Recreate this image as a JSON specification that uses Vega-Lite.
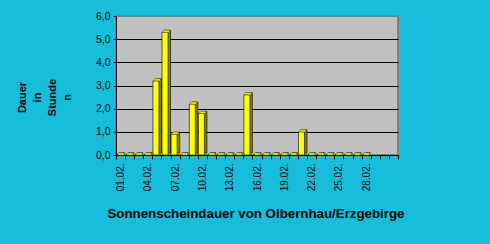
{
  "$schema": "https://vega.github.io/schema/vega-lite/v6.json",
  "width": 282,
  "height": 139,
  "autosize": {"type": "none"},
  "padding": {"left": 116, "top": 16, "right": 92, "bottom": 89},
  "background": "#16BEDC",
  "config": {
    "font": "Liberation Sans",
    "view": {"fill": "#C0C0C0", "stroke": "#808080", "strokeWidth": 2}
  },
  "data": {
    "values": [
      {"day": 1, "value": 0}, {"day": 2, "value": 0}, {"day": 3, "value": 0},
      {"day": 4, "value": 0}, {"day": 5, "value": 3.2}, {"day": 6, "value": 5.3},
      {"day": 7, "value": 0.9}, {"day": 8, "value": 0}, {"day": 9, "value": 2.2},
      {"day": 10, "value": 1.8}, {"day": 11, "value": 0}, {"day": 12, "value": 0},
      {"day": 13, "value": 0}, {"day": 14, "value": 0}, {"day": 15, "value": 2.6},
      {"day": 16, "value": 0}, {"day": 17, "value": 0}, {"day": 18, "value": 0},
      {"day": 19, "value": 0}, {"day": 20, "value": 0}, {"day": 21, "value": 1.0},
      {"day": 22, "value": 0}, {"day": 23, "value": 0}, {"day": 24, "value": 0},
      {"day": 25, "value": 0}, {"day": 26, "value": 0}, {"day": 27, "value": 0},
      {"day": 28, "value": 0}, {"day": 29, "value": null}, {"day": 30, "value": null},
      {"day": 31, "value": null}
    ]
  },
  "encoding": {
    "x": {
      "field": "day",
      "type": "ordinal",
      "scale": {
        "domain": [1,2,3,4,5,6,7,8,9,10,11,12,13,14,15,16,17,18,19,20,21,22,23,24,25,26,27,28,29,30,31],
        "paddingInner": 0,
        "paddingOuter": 0
      },
      "axis": {
        "title": "Sonnenscheindauer von Olbernhau/Erzgebirge",
        "titleFontSize": 13.3,
        "titleFontWeight": "bold",
        "titleColor": "black",
        "titleX": 139.5,
        "titleY": 51,
        "titleAlign": "center",
        "titleBaseline": "top",
        "labelExpr": "datum.value <= 28 && (datum.value - 1) % 3 == 0 ? (datum.value < 10 ? '0' : '') + datum.value + '.02.' : ''",
        "labelAngle": 270,
        "labelAlign": "right",
        "labelBaseline": "middle",
        "labelFontSize": 10,
        "labelColor": "black",
        "labelPadding": 4,
        "labelOverlap": false,
        "tickBand": "extent",
        "tickSize": 4,
        "tickColor": "black",
        "domainColor": "black",
        "grid": false
      }
    },
    "y": {
      "field": "value",
      "type": "quantitative",
      "scale": {"domain": [0, 6], "nice": false},
      "axis": {
        "values": [0, 1, 2, 3, 4, 5, 6],
        "labelExpr": "replace(format(datum.value, '.1f'), '.', ',')",
        "labelFontSize": 10.5,
        "labelColor": "black",
        "labelPadding": 3,
        "tickSize": 3,
        "tickColor": "black",
        "domainColor": "black",
        "grid": true,
        "gridColor": {"condition": {"test": "datum.value === 6", "value": "#808080"}, "value": "black"},
        "gridOpacity": 1,
        "title": ["Dauer", "in", "Stunde", "n"],
        "titleFontSize": 11,
        "titleFontWeight": "bold",
        "titleColor": "black",
        "titleAngle": 270,
        "titleAlign": "center",
        "titleBaseline": "top",
        "titleLineHeight": 15,
        "titleX": -99.5,
        "titleY": 81
      }
    }
  },
  "layer": [
    {
      "mark": {"type": "bar", "width": 6, "xOffset": 1.5, "yOffset": -2, "color": "#808000", "stroke": "black", "strokeWidth": 0.6}
    },
    {
      "mark": {"type": "bar", "width": 6, "xOffset": -1, "color": "#FFFF00", "stroke": "black", "strokeWidth": 0.6}
    },
    {
      "mark": {"type": "tick", "size": 6, "thickness": 2, "xOffset": 0.3, "yOffset": -1, "color": "#FFFF00", "stroke": "#606000", "strokeWidth": 0.5, "opacity": 1}
    }
  ]
}
